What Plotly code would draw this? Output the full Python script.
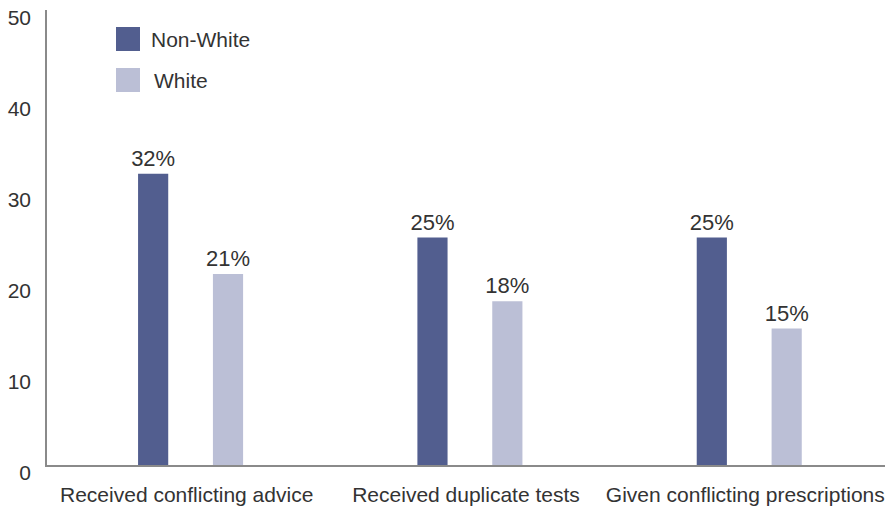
import plotly.graph_objects as go

categories = ["Received conflicting advice", "Received duplicate tests", "Given conflicting prescriptions"]
series_names = ["Non-White", "White"]
non_white = [32, 25, 25]
white = [21, 18, 15]

colors = ["#525e8f", "#bbbfd6"]
text_color = "#333333"
font_family = "Liberation Sans, Arial, sans-serif"


def main():
    fig = go.Figure()

    offsets = [-0.174, 0.094]
    for name, values, color, offset in zip(series_names, [non_white, white], colors, offsets):
        fig.add_trace(go.Bar(
            x=categories,
            y=values,
            name=name,
            marker=dict(color=color, line=dict(width=0)),
            width=0.108,
            offset=offset,
            text=[f"{v}%" for v in values],
            textposition="outside",
            constraintext="none",
            textfont=dict(size=22, color=text_color, family=font_family),
            cliponaxis=False,
        ))

    # hand-made legend with large squares
    for i, (name, color) in enumerate(zip(series_names, colors)):
        y0 = 27 + i * 41
        fig.add_shape(type="rect", xref="paper", yref="paper",
                      x0=(116 - 47) / 838, x1=(140 - 47) / 838,
                      y0=(465 - y0 - 24) / 455, y1=(465 - y0) / 455,
                      fillcolor=color, line=dict(width=0))
        fig.add_annotation(xref="paper", yref="paper",
                           x=(149 + 3 * i - 47) / 838, y=(465 - y0 - 12) / 455,
                           text=name, showarrow=False, xanchor="left", yanchor="middle",
                           font=dict(size=21, color=text_color, family=font_family))

    fig.update_layout(
        width=891,
        height=509,
        margin=dict(l=47, r=6, t=10, b=44),
        plot_bgcolor="white",
        paper_bgcolor="white",
        showlegend=False,
        barmode="overlay",
        font=dict(family=font_family, color=text_color, size=21),
    )
    fig.update_xaxes(
        range=[-0.5, 2.5],
        automargin=False,
        showline=True, linecolor="#8a8a8a", linewidth=1.5,
        showgrid=False, ticks="",
        tickfont=dict(size=21, color=text_color),
        ticklabelstandoff=10,
        ticklabeloverflow="allow",
    )
    fig.update_yaxes(
        range=[0, 50],
        automargin=False,
        tickvals=[0, 10, 20, 30, 40, 50],
        showline=True, linecolor="#8a8a8a", linewidth=1.5,
        showgrid=False, zeroline=False, ticks="",
        tickfont=dict(size=21, color=text_color),
        ticklabelstandoff=10,
        ticklabelshift=8,
        ticklabeloverflow="allow",
    )

    # the page body has a default margin that would push the figure off by 8px
    fig.write_html("out.html", config={"displayModeBar": False},
                   post_script="document.body.style.margin='0';")


if __name__ == "__main__":
    main()
